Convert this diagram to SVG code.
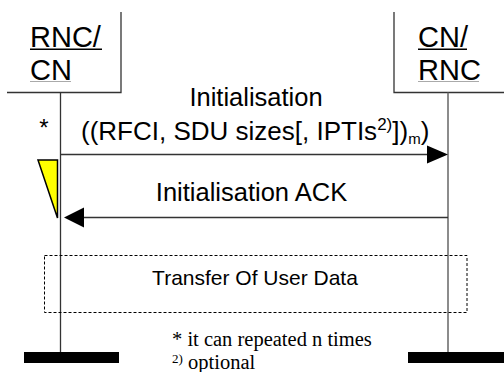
<svg xmlns="http://www.w3.org/2000/svg" width="504" height="372" viewBox="0 0 504 372">
<style>
.sans{font-family:"Liberation Sans",Arial,sans-serif;fill:#000}
.serif{font-family:"Liberation Serif","Times New Roman",serif;fill:#000}
.ln{stroke:#333;stroke-width:1.3;fill:none}
.ul{stroke:#000;stroke-width:1.6}
</style>
<rect width="504" height="372" fill="#fff"/>
<g id="node-rnc-cn">
<path class="ln" d="M121,12 V92.5 H7"/>
<text class="sans" x="30" y="47" font-size="29">RNC/</text>
<line class="ul" x1="30" y1="49.3" x2="102" y2="49.3"/>
<text class="sans" x="30" y="80" font-size="29">CN</text>
<line x1="30" y1="81.5" x2="71" y2="81.5" stroke="#aaa" stroke-width="1"/>
<line class="ln" x1="60.5" y1="92.5" x2="60.5" y2="352"/>
<rect x="24" y="352" width="95" height="11" fill="#000"/>
</g>
<g id="node-cn-rnc">
<path class="ln" d="M394,12 V92.5 H504"/>
<text class="sans" x="418" y="47" font-size="29">CN/</text>
<line class="ul" x1="418" y1="49.3" x2="467" y2="49.3"/>
<text class="sans" x="418" y="80" font-size="29">RNC</text>
<line x1="418" y1="81.5" x2="479" y2="81.5" stroke="#aaa" stroke-width="1"/>
<line x1="448" y1="92.5" x2="448" y2="352" stroke="#666" stroke-width="1.5"/>
<rect x="408" y="352" width="96" height="11" fill="#000"/>
</g>
<g id="connectors">
<line class="ln" x1="61" y1="154.5" x2="430" y2="154.5"/>
<polygon points="427,145.5 448,154.5 427,163.5" fill="#000"/>
<line class="ln" x1="82" y1="217.5" x2="448" y2="217.5"/>
<polygon points="64,217.5 84,207.5 84,227.5" fill="#000"/>
</g>
<g id="labels">
<text class="sans" x="256" y="106" font-size="25.5" text-anchor="middle">Initialisation</text>
<text class="sans" x="81" y="140" font-size="26">((RFCI, SDU sizes[, IPTIs<tspan font-size="17" dy="-10">2)</tspan><tspan dy="10">])</tspan><tspan font-size="15" dy="4">m</tspan><tspan dy="-4">)</tspan></text>
<text class="sans" x="44" y="136" font-size="24" text-anchor="middle">*</text>
<text class="sans" x="251.5" y="201" font-size="25.5" text-anchor="middle">Initialisation ACK</text>
</g>
<g id="marker-triangle">
<polygon points="38,160 57.5,160 57.5,218" fill="#ffff00" stroke="#000" stroke-width="1.5" stroke-linejoin="miter"/>
</g>
<g id="transfer-box">
<rect x="44.5" y="255.5" width="422.5" height="57" fill="none" stroke="#000" stroke-width="1" stroke-dasharray="3,2"/>
<text class="sans" x="255" y="284.5" font-size="21" text-anchor="middle">Transfer Of User Data</text>
</g>
<g id="footnotes">
<text class="serif" x="172" y="345.5" font-size="20.5">* it can repeated n times</text>
<text class="serif" x="172" y="363" font-size="13">2)</text>
<text class="serif" x="188" y="369" font-size="20.5">optional</text>
</g>
</svg>
